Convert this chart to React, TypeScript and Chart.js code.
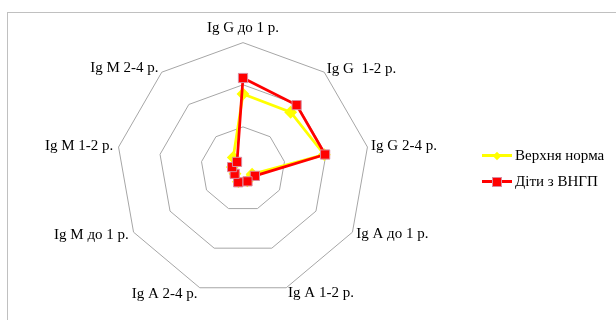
import React, { useEffect, useRef } from "react";
import { Chart, registerables } from "chart.js";

Chart.register(...registerables);

const categories: string[] = [
  "Ig G до 1 р.",
  "Ig G  1-2 р.",
  "Ig G 2-4 р.",
  "Ig A до 1 р.",
  "Ig A 1-2 р.",
  "Ig A 2-4 р.",
  "Ig M до 1 р.",
  "Ig M 1-2 р.",
  "Ig M 2-4 р.",
];

const upperNorm: number[] = [8.9, 8.8, 9.8, 1.25, 1.5, 1.6, 1.1, 1.3, 1.8];
const childrenVNGP: number[] = [10.8, 9.9, 9.9, 1.63, 1.56, 1.68, 1.14, 1.31, 1.1];

const seriesNames: string[] = ["Верхня норма", "Діти з ВНГП"];

const axisMin = 0;
const axisMax = 15;
const axisStep = 5;

// radial distance of each category label beyond the outer ring
const labelPadding: number[] = [14.5, 4, 3.7, 4.3, 5.5, 6.5, 5.5, 5.3, 5];

export default function App() {
  const ref = useRef<HTMLCanvasElement | null>(null);

  useEffect(() => {
    document.body.style.margin = "0";
    if (!ref.current) return;
    const chart = new Chart(ref.current, {
      type: "radar",
      data: {
        labels: categories,
        datasets: [
          {
            label: seriesNames[0],
            data: upperNorm,
            order: 1,
            borderColor: "#ffff00",
            backgroundColor: "#ffff00",
            borderWidth: 2.75,
            pointStyle: "rectRot",
            pointRadius: 4.5,
            pointBorderColor: "#ffff00",
            pointBackgroundColor: "#ffff00",
            fill: false,
          },
          {
            label: seriesNames[1],
            data: childrenVNGP,
            order: 0,
            borderColor: "#ff0000",
            backgroundColor: "#ff0000",
            borderWidth: 2.75,
            pointStyle: "rect",
            pointRadius: 6.5,
            pointBorderWidth: 1,
            pointBorderColor: "#d98ca0",
            pointBackgroundColor: "#ff0000",
            fill: false,
          },
        ],
      },
      options: {
        animation: false,
        responsive: false,
        maintainAspectRatio: false,
        layout: { padding: { left: 43, right: 177, top: 14, bottom: 36 } },
        plugins: {
          legend: { display: false },
          tooltip: { enabled: false },
        },
        elements: { line: { tension: 0 } },
        scales: {
          r: {
            min: axisMin,
            max: axisMax,
            ticks: { stepSize: axisStep, display: false },
            angleLines: { display: false },
            grid: { color: "#a6a6a6", lineWidth: 1 },
            pointLabels: {
              color: "#000000",
              padding: (ctx: any) => labelPadding[ctx.index] ?? 5,
              font: {
                family: "'Liberation Serif', 'Times New Roman', serif",
                size: 15,
                lineHeight: 0.01,
              },
            },
          },
        },
      },
    });
    return () => chart.destroy();
  }, []);

  const legendText: React.CSSProperties = {
    fontFamily: "'Liberation Serif', 'Times New Roman', serif",
    fontSize: 15,
    color: "#000",
    position: "absolute",
    left: 515,
    whiteSpace: "nowrap",
    lineHeight: "15px",
  };

  return (
    <div style={{ position: "relative", width: 616, height: 320, overflow: "hidden", background: "#fff" }}>
      <div
        style={{
          position: "absolute",
          left: 7,
          top: 12,
          width: 700,
          height: 400,
          border: "1px solid #c0c0c0",
        }}
      />
      <canvas ref={ref} width={616} height={480} style={{ position: "absolute", left: 0, top: -60 }} />
      <div style={{ position: "absolute", left: 482, top: 154, width: 30, height: 3, background: "#ffff00" }} />
      <div
        style={{
          position: "absolute",
          left: 494,
          top: 152.5,
          width: 6,
          height: 6,
          background: "#ffff00",
          transform: "rotate(45deg)",
        }}
      />
      <div style={{ ...legendText, top: 148 }}>{seriesNames[0]}</div>
      <div style={{ position: "absolute", left: 482, top: 180, width: 30, height: 3, background: "#ff0000" }} />
      <div
        style={{
          position: "absolute",
          left: 492,
          top: 176.5,
          width: 8,
          height: 8,
          background: "#ff0000",
          border: "1px solid #d98ca0",
        }}
      />
      <div style={{ ...legendText, top: 174 }}>{seriesNames[1]}</div>
    </div>
  );
}
